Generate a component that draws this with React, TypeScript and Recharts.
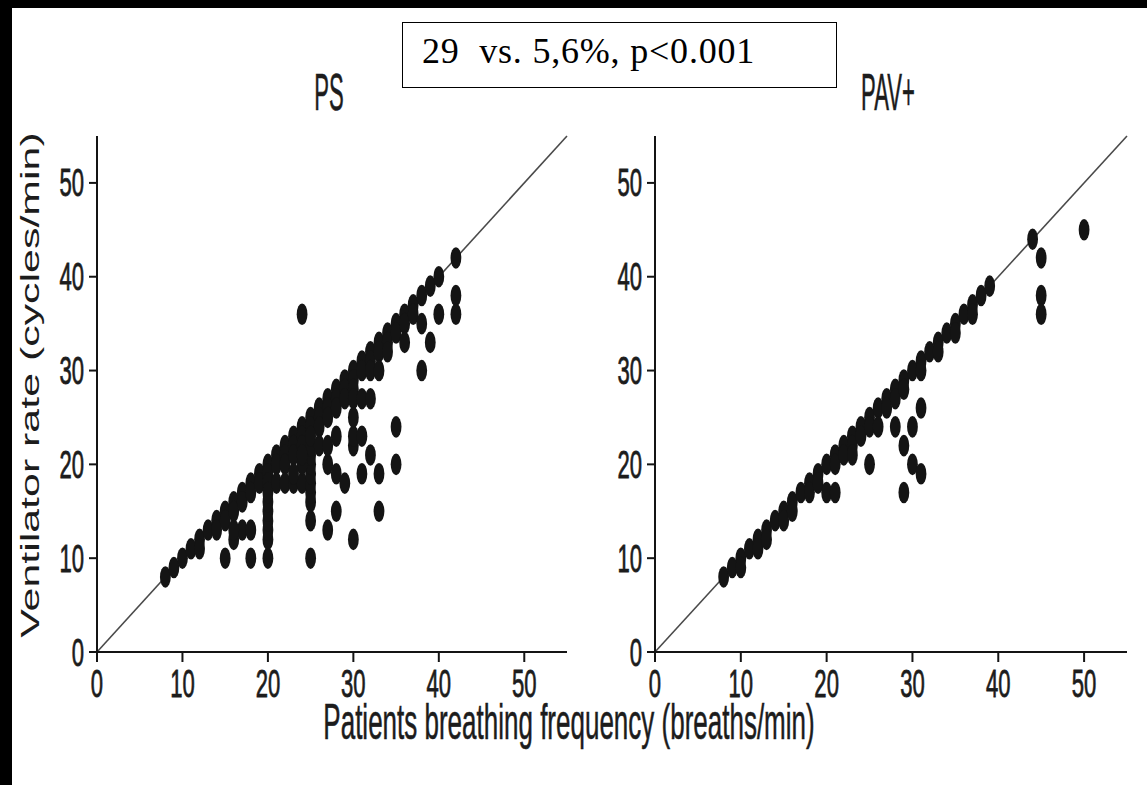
import { ReferenceLine, Scatter, ScatterChart, XAxis, YAxis } from "recharts";

// Patients breathing frequency (x) vs ventilator rate (y), breaths/min
const psOnLine = [
  [8, 8], [9, 9], [10, 10], [11, 11], [12, 12], [13, 13], [14, 14], [15, 15],
  [16, 16], [17, 17], [18, 18], [19, 19], [20, 20], [21, 21], [22, 22], [23, 23],
  [24, 24], [25, 25], [26, 26], [27, 27], [28, 28], [29, 29], [30, 30], [31, 31],
  [32, 32], [33, 33], [34, 34], [35, 35], [36, 36], [37, 37], [38, 38], [39, 39],
  [40, 40], [42, 42],
];
const psNearLine = [
  [12, 11], [14, 13], [15, 14], [16, 15], [17, 16], [18, 17], [19, 18], [20, 19],
  [21, 20], [22, 21], [23, 22], [24, 23], [25, 24], [26, 25], [27, 26], [28, 27],
  [29, 28], [30, 29], [31, 30], [32, 31], [33, 32], [34, 33], [35, 34], [36, 35],
  [37, 36], [20, 18], [22, 20], [23, 21], [24, 22], [26, 24], [27, 25], [28, 26],
  [29, 27], [30, 28],
];
const psBelow = [
  [15, 10], [18, 10], [20, 10], [25, 10], [16, 12], [17, 13], [18, 13], [16, 13],
  [20, 12], [20, 13], [20, 14], [20, 15], [20, 16], [20, 17], [25, 14], [27, 13],
  [28, 15], [30, 12], [21, 18], [22, 18], [23, 18], [24, 18], [25, 16], [25, 17],
  [25, 18], [25, 19], [25, 20], [25, 21], [25, 22], [25, 23], [24, 20], [24, 21],
  [23, 19], [26, 22], [27, 20], [28, 19], [29, 18], [28, 23], [27, 22], [30, 22],
  [30, 23], [30, 25], [30, 27], [31, 19], [31, 23], [32, 21], [31, 27], [32, 27],
  [33, 19], [33, 15], [35, 24], [35, 20], [32, 30], [33, 30], [34, 32], [36, 33],
  [38, 35], [38, 30], [39, 33], [40, 36], [42, 38], [42, 36], [24, 36],
];

const pavOnLine = [
  [8, 8], [9, 9], [10, 10], [11, 11], [12, 12], [13, 13], [14, 14], [15, 15],
  [16, 16], [17, 17], [18, 18], [19, 19], [20, 20], [21, 21], [22, 22], [23, 23],
  [24, 24], [25, 25], [26, 26], [27, 27], [28, 28], [29, 29], [30, 30], [31, 31],
  [32, 32], [33, 33], [34, 34], [35, 35], [36, 36], [37, 37], [38, 38], [39, 39],
];
const pavNearLine = [
  [10, 9], [12, 11], [13, 12], [15, 14], [16, 15], [18, 17], [19, 18], [21, 20],
  [22, 21], [23, 22], [24, 23], [25, 24], [27, 26], [28, 27], [29, 28], [31, 30],
  [33, 32], [35, 34], [37, 36],
];
const pavBelow = [
  [20, 17], [21, 17], [25, 20], [23, 21], [26, 24], [28, 24], [30, 24], [29, 22],
  [30, 20], [31, 19], [29, 17], [31, 26], [44, 44], [45, 42], [45, 38], [45, 36],
  [50, 45],
];

const axisTicks = [0, 10, 20, 30, 40, 50];
const identity = [
  { x: 0, y: 0 },
  { x: 55, y: 55 },
];

const toPoints = (...groups: number[][][]) =>
  groups.flat().map(([x, y]) => ({ x, y }));

const psData = toPoints(psOnLine, psNearLine, psBelow);
const pavData = toPoints(pavOnLine, pavNearLine, pavBelow);

const INK = "#141414";
const TEXT = "#1c1c1c";
const SANS = "'Liberation Sans', Arial, sans-serif";

function Blob(props: any) {
  const { cx, cy } = props;
  if (cx == null || cy == null) return null;
  return <ellipse cx={cx} cy={cy} rx={5.4} ry={10.8} fill={INK} />;
}

function YTick({ x, y, payload }: any) {
  return (
    <g transform={`translate(${x},${y}) scale(0.92,1.65)`}>
      <text
        textAnchor="end"
        dominantBaseline="central"
        fontFamily={SANS}
        fontSize={24}
        fill={TEXT}
        stroke={TEXT}
        strokeWidth={0.5}
      >
        {payload.value}
      </text>
    </g>
  );
}

function XTick({ x, y, payload }: any) {
  return (
    <g transform={`translate(${x},${y + 33}) scale(0.92,1.65)`}>
      <text
        textAnchor="middle"
        fontFamily={SANS}
        fontSize={24}
        fill={TEXT}
        stroke={TEXT}
        strokeWidth={0.5}
      >
        {payload.value}
      </text>
    </g>
  );
}

function Panel({
  data,
  left,
  width,
  axisWidth,
  right,
}: {
  data: { x: number; y: number }[];
  left: number;
  width: number;
  axisWidth: number;
  right: number;
}) {
  return (
    <div style={{ position: "absolute", left, top: 0 }}>
      <ScatterChart
        width={width}
        height={785}
        margin={{ top: 136, right, bottom: 73, left: 0 }}
      >
        <XAxis
          type="number"
          dataKey="x"
          domain={[0, 55]}
          ticks={axisTicks}
          allowDataOverflow
          height={60}
          tickSize={10}
          tickMargin={2}
          axisLine={{ stroke: INK, strokeWidth: 2 }}
          tickLine={{ stroke: INK, strokeWidth: 2 }}
          tick={<XTick />}
        />
        <YAxis
          type="number"
          dataKey="y"
          domain={[0, 55]}
          ticks={axisTicks}
          allowDataOverflow
          width={axisWidth}
          tickSize={8}
          tickMargin={5}
          axisLine={{ stroke: INK, strokeWidth: 2 }}
          tickLine={{ stroke: INK, strokeWidth: 2 }}
          tick={<YTick />}
        />
        <ReferenceLine segment={identity} stroke="#4a4a4a" strokeWidth={1.6} ifOverflow="visible" />
        <Scatter data={data} shape={<Blob />} isAnimationActive={false} />
      </ScatterChart>
    </div>
  );
}

export default function App() {
  return (
    <div
      style={{
        position: "absolute",
        left: 0,
        top: 0,
        width: 1147,
        height: 785,
        background: "#fff",
        overflow: "hidden",
      }}
    >
      <Panel data={psData} left={0} width={600} axisWidth={97} right={33} />
      <Panel data={pavData} left={570} width={577} axisWidth={85} right={20} />

      <svg
        width={1147}
        height={785}
        style={{ position: "absolute", left: 0, top: 0, pointerEvents: "none" }}
      >
        <g transform="translate(329,110) scale(0.85,2)">
          <text textAnchor="middle" fontFamily={SANS} fontSize={26} fill={TEXT} stroke={TEXT} strokeWidth={0.3}>PS</text>
        </g>
        <g transform="translate(888,110) scale(0.85,2)">
          <text textAnchor="middle" fontFamily={SANS} fontSize={26} fill={TEXT} stroke={TEXT} strokeWidth={0.3}>PAV+</text>
        </g>
        <g transform="translate(30,385) rotate(-90) scale(1.65,1)">
          <text textAnchor="middle" dominantBaseline="central" fontFamily={SANS} fontSize={26} fill={TEXT}>
            Ventilator rate (cycles/min)
          </text>
        </g>
        <g transform="translate(569,739) scale(1,1.9)">
          <text textAnchor="middle" fontFamily={SANS} fontSize={26} fill={TEXT} stroke={TEXT} strokeWidth={0.3}>
            Patients breathing frequency (breaths/min)
          </text>
        </g>
      </svg>

      <div
        style={{
          position: "absolute",
          left: 402,
          top: 22,
          width: 435,
          height: 66,
          boxSizing: "border-box",
          border: "1.5px solid #000",
          background: "#fff",
          fontFamily: "'Liberation Serif', 'Times New Roman', serif",
          fontSize: 36,
          lineHeight: "57px",
          paddingLeft: 19,
          letterSpacing: 0.8,
          whiteSpace: "pre",
          color: "#000",
        }}
      >
        {"29  vs. 5,6%, p<0.001"}
      </div>

      <div style={{ position: "absolute", left: 0, top: 0, width: 1147, height: 8, background: "#000" }} />
      <div style={{ position: "absolute", left: 0, top: 0, width: 12, height: 785, background: "#000" }} />
    </div>
  );
}
